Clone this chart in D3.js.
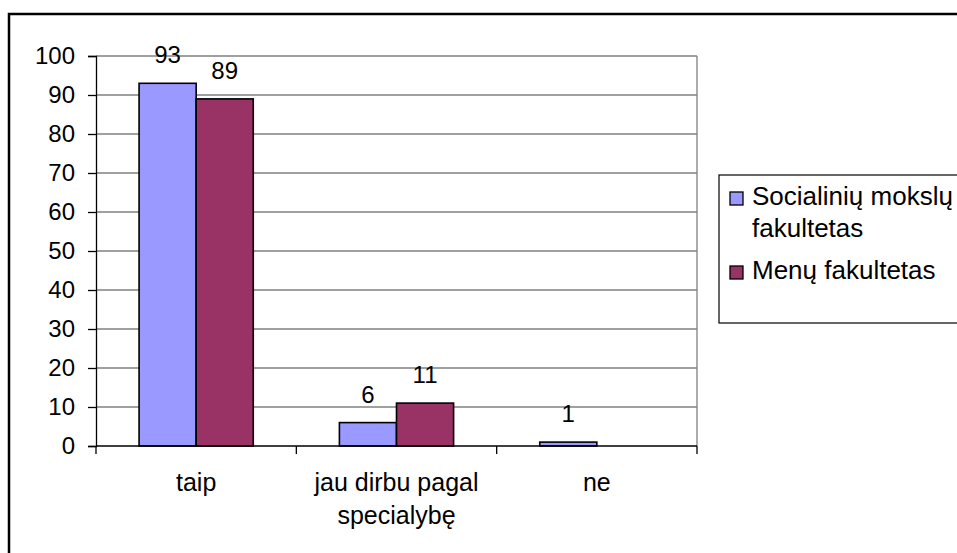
<!DOCTYPE html>
<html>
<head>
<meta charset="utf-8">
<script src="https://cdn.jsdelivr.net/npm/d3@7"></script>
<style>
  html, body { margin: 0; padding: 0; background: #fff; }
  svg { display: block; }
  text { font-family: "Liberation Sans", Arial, sans-serif; fill: #000; }
</style>
</head>
<body>
<svg id="chart" width="957" height="553"></svg>
<script>
const categories = [["taip"], ["jau dirbu pagal", "specialybę"], ["ne"]];
const categoryKeys = ["taip", "jau dirbu pagal specialybę", "ne"];
const seriesNames = [["Socialinių mokslų", "fakultetas"], ["Menų fakultetas"]];
const seriesKeys = ["soc", "men"];
const socValues = [93, 6, 1];
const menValues = [89, 11, 0];
const menLabels = [true, true, false];
const yTicks = [0, 10, 20, 30, 40, 50, 60, 70, 80, 90, 100];
const colors = ["#9999FF", "#993366"];

const svg = d3.select("#chart");
const fontSize = 24;
const textSize = 25;
const legendSize = 26;

// outer chart border
svg.append("rect")
  .attr("x", 9).attr("y", 14).attr("width", 1100).attr("height", 700)
  .attr("fill", "#fff").attr("stroke", "#000").attr("stroke-width", 2.5);

const plot = { left: 96, right: 697, top: 56, bottom: 446 };

const x = d3.scaleBand().domain(categoryKeys).range([plot.left, plot.right]).padding(0);
const bw = x.bandwidth();
const x1 = d3.scaleBand().domain(seriesKeys).range([bw * 0.215, bw * 0.785]).padding(0);
const y = d3.scaleLinear().domain([0, 100]).range([plot.bottom, plot.top]);

// gridlines
svg.append("g").selectAll("line").data(yTicks.filter(d => d > 0)).join("line")
  .attr("x1", plot.left).attr("x2", plot.right)
  .attr("y1", d => y(d)).attr("y2", d => y(d))
  .attr("stroke", "#808080").attr("stroke-width", 1.3);
// right border of plot area
svg.append("line")
  .attr("x1", plot.right).attr("x2", plot.right)
  .attr("y1", plot.top).attr("y2", plot.bottom)
  .attr("stroke", "#808080").attr("stroke-width", 1.3);

// bars
const data = categoryKeys.map((c, i) => ({ c, i, vals: [
  { k: "soc", v: socValues[i], show: true, color: colors[0] },
  { k: "men", v: menValues[i], show: menLabels[i], color: colors[1] }
]}));

const groups = svg.append("g").selectAll("g").data(data).join("g")
  .attr("transform", d => `translate(${x(d.c)},0)`);

groups.selectAll("rect").data(d => d.vals.filter(v => v.v > 0)).join("rect")
  .attr("x", d => x1(d.k))
  .attr("y", d => y(d.v))
  .attr("width", x1.bandwidth())
  .attr("height", d => y(0) - y(d.v))
  .attr("fill", d => d.color)
  .attr("stroke", "#000").attr("stroke-width", 1.6);

groups.selectAll("text").data(d => d.vals.filter(v => v.show)).join("text")
  .attr("x", d => x1(d.k) + x1.bandwidth() / 2)
  .attr("y", d => y(d.v) - 20)
  .attr("text-anchor", "middle")
  .attr("font-size", fontSize)
  .text(d => d.v);

// y axis
const yAxis = d3.axisLeft(y).tickValues(yTicks).tickSize(8).tickPadding(13);
const gy = svg.append("g").attr("transform", `translate(${plot.left},0)`).call(yAxis);
gy.select(".domain").attr("stroke", "#000").attr("stroke-width", 1.3);
gy.selectAll(".tick line").attr("stroke", "#000").attr("stroke-width", 1.3);
gy.selectAll(".tick text")
  .attr("font-size", fontSize)
  .attr("font-family", "Liberation Sans, Arial, sans-serif")
  .attr("fill", "#000")
  .attr("dy", "0.3em");

// x axis line and ticks at category boundaries
const boundaries = categoryKeys.map(c => x(c)).concat([x(categoryKeys[categoryKeys.length - 1]) + bw]);
svg.append("line")
  .attr("x1", plot.left).attr("x2", plot.right)
  .attr("y1", plot.bottom).attr("y2", plot.bottom)
  .attr("stroke", "#000").attr("stroke-width", 1.3);
svg.append("g").selectAll("line").data(boundaries).join("line")
  .attr("x1", d => d).attr("x2", d => d)
  .attr("y1", plot.bottom).attr("y2", plot.bottom + 8)
  .attr("stroke", "#000").attr("stroke-width", 1.3);

// category labels
svg.append("g").selectAll("text").data(categoryKeys).join("text")
  .attr("x", d => x(d) + bw / 2)
  .attr("y", 491)
  .attr("text-anchor", "middle")
  .attr("font-size", textSize)
  .each(function(d, i) {
    const t = d3.select(this);
    categories[i].forEach((line, j) => {
      t.append("tspan").attr("x", x(d) + bw / 2).attr("dy", j === 0 ? 0 : 33).text(line);
    });
  });

// legend
const legend = svg.append("g");
legend.append("rect")
  .attr("x", 719).attr("y", 175).attr("width", 300).attr("height", 148)
  .attr("fill", "#fff").attr("stroke", "#000").attr("stroke-width", 1.2);
const legendRows = [192, 266];
seriesNames.forEach((lines, i) => {
  legend.append("rect")
    .attr("x", 730).attr("y", legendRows[i]).attr("width", 13).attr("height", 13)
    .attr("fill", colors[i]).attr("stroke", "#000").attr("stroke-width", 1.3);
  const t = legend.append("text")
    .attr("x", 752).attr("y", legendRows[i] + 13)
    .attr("font-size", legendSize);
  lines.forEach((line, j) => {
    t.append("tspan").attr("x", 752).attr("dy", j === 0 ? 0 : 32).text(line);
  });
});
</script>
</body>
</html>
